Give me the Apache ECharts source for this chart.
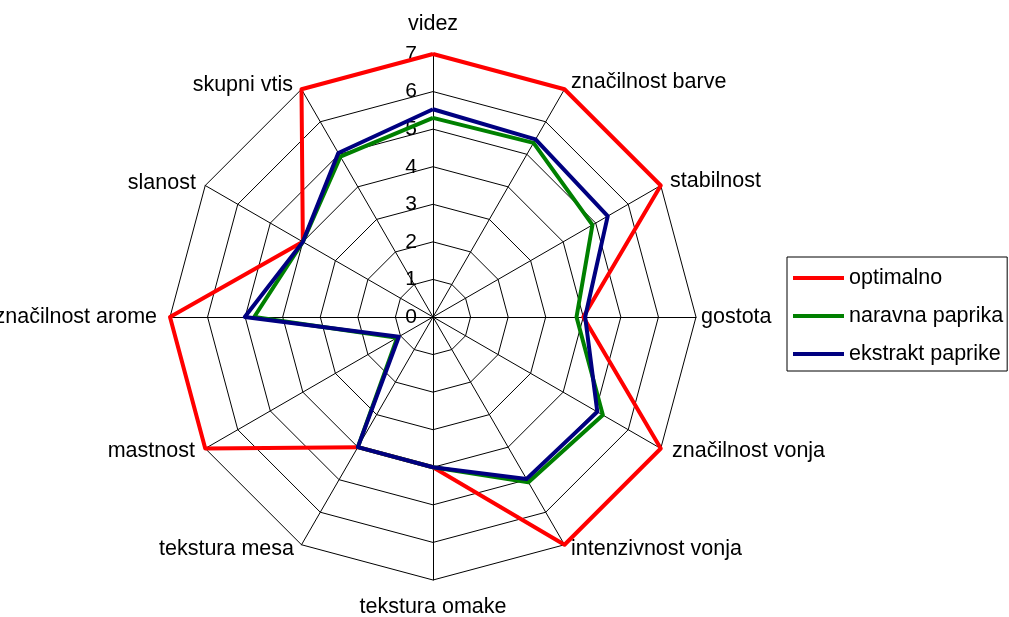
<!DOCTYPE html>
<html>
<head>
<meta charset="utf-8">
<title>Ocena paprike</title>
<script src="https://cdn.jsdelivr.net/npm/echarts@6/dist/echarts.min.js"></script>
<style>
  html, body { margin: 0; padding: 0; background: #fff; }
  #chart { width: 1009px; height: 617px; }
</style>
</head>
<body>
<div id="chart"></div>
<script>
// Attributes, listed clockwise starting from the top
const categories = ['videz', 'značilnost barve', 'stabilnost', 'gostota', 'značilnost vonja',
  'intenzivnost vonja', 'tekstura omake', 'tekstura mesa', 'mastnost', 'značilnost arome',
  'slanost', 'skupni vtis'];

const optimalno = [7, 7, 7, 4, 7, 7, 4, 4, 7, 7, 4, 7];
const naravnaPaprika = [5.3, 5.35, 4.9, 3.82, 5.22, 5.08, 4, 4, 1.1, 4.76, 4, 4.93];
const ekstraktPaprike = [5.53, 5.46, 5.37, 4.05, 5.05, 4.98, 4, 4, 1.05, 5.01, 4, 5.04];

const seriesNames = ['optimalno', 'naravna paprika', 'ekstrakt paprike'];
const seriesColors = ['#ff0000', '#008000', '#000080'];
const seriesValues = [optimalno, naravnaPaprika, ekstraktPaprike];

const scaleMin = 0;
const scaleMax = 7;

// ECharts lays radar indicators out counter-clockwise, so walk the list in reverse after the first
const order = [0].concat(categories.map((_, i) => i).slice(1).reverse());

// Per-label spacing so each name sits where it belongs around the web
const namePad = {
  'videz': [0, 0, 14, 0],
  'značilnost barve': [0, 0, 5, 4],
  'stabilnost': [0, 0, 4, 5],
  'gostota': [0, 0, 0, 0],
  'značilnost vonja': [0, 0, 0, 7],
  'intenzivnost vonja': [0, 0, 0, 4],
  'tekstura omake': [11, 0, 0, 0],
  'tekstura mesa': [0, 5, 0, 0],
  'mastnost': [0, 6, 0, 0],
  'značilnost arome': [0, 8, 0, 0],
  'slanost': [0, 5, 0, 0],
  'skupni vtis': [0, 6, 0, 0]
};

const font = '"Liberation Sans", Arial, sans-serif';
const nameSize = 21.5;
const rich = {};
categories.forEach((c, i) => {
  rich['n' + i] = { fontSize: nameSize, fontFamily: font, color: '#000', padding: namePad[c] };
});

const indicator = order.map((i, k) => {
  const ind = { name: categories[i], min: scaleMin, max: scaleMax };
  if (k === 0) {
    ind.axisLabel = { show: true };
  }
  return ind;
});

const chart = echarts.init(document.getElementById('chart'), null, { renderer: 'canvas' });

chart.setOption({
  backgroundColor: '#ffffff',
  animation: false,
  textStyle: { fontFamily: font },
  legend: {
    orient: 'vertical',
    left: 787,
    top: 257,
    padding: [10, 4, 6, 6],
    itemGap: 16,
    itemWidth: 51,
    itemHeight: 4,
    icon: 'rect',
    borderColor: '#000',
    borderWidth: 1,
    backgroundColor: '#fff',
    textStyle: { fontSize: nameSize, fontFamily: font, color: '#000' },
    data: seriesNames
  },
  radar: {
    center: [433, 317],
    radius: 263,
    startAngle: 90,
    splitNumber: scaleMax - scaleMin,
    shape: 'polygon',
    nameGap: 5,
    axisName: {
      color: '#000',
      fontSize: nameSize,
      fontFamily: font,
      formatter: function (name) {
        return '{n' + categories.indexOf(name) + '|' + name + '}';
      },
      rich: rich
    },
    axisLine: { show: true, lineStyle: { color: '#000', width: 1 } },
    axisTick: { show: false },
    axisLabel: {
      show: false,
      color: '#000',
      fontSize: 21,
      fontFamily: font,
      margin: 16
    },
    splitLine: { show: true, lineStyle: { color: '#000', width: 1 } },
    splitArea: { show: false },
    indicator: indicator
  },
  series: [{
    type: 'radar',
    symbol: 'none',
    data: seriesValues.map((vals, s) => ({
      name: seriesNames[s],
      value: order.map(i => vals[i]),
      itemStyle: { color: seriesColors[s] },
      lineStyle: { color: seriesColors[s], width: 4 },
      areaStyle: null
    }))
  }]
});
</script>
</body>
</html>
